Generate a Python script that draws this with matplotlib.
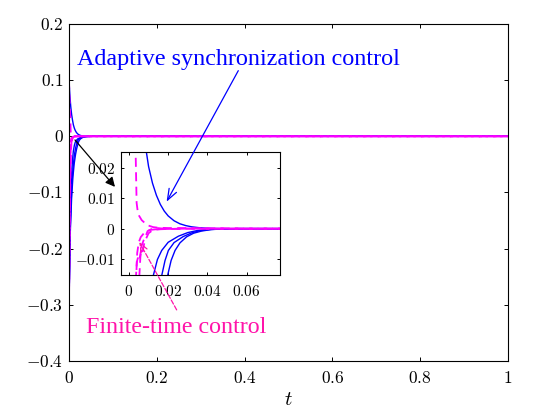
import matplotlib
matplotlib.use('Agg')
import matplotlib.pyplot as plt
from matplotlib.ticker import FuncFormatter

plt.rcParams['mathtext.fontset'] = 'cm'
plt.rcParams['font.family'] = ['Liberation Serif', 'DejaVu Serif']

# --- data ---
# adaptive synchronization control (blue, solid)
b1_t = [0, 0.002, 0.004, 0.006, 0.008, 0.010, 0.012, 0.014, 0.016, 0.018, 0.020,
        0.023, 0.026, 0.029, 0.032, 0.036, 0.040, 0.045, 0.05, 1.0]
b1_y = [0.1, 0.073, 0.053, 0.039, 0.029, 0.0205, 0.0150, 0.0110, 0.0080, 0.0058, 0.0042,
        0.0026, 0.0016, 0.0010, 0.0006, 0.0003, 0.00012, 0.00004, 0.0, 0.0]
b2_t = [0, 0.002, 0.004, 0.006, 0.008, 0.010, 0.0124, 0.0145, 0.0167, 0.020, 0.0252,
        0.030, 0.035, 0.040, 0.046, 0.054, 1.0]
b2_y = [-0.3, -0.18, -0.11, -0.068, -0.042, -0.026, -0.0155, -0.0102, -0.0072, -0.0045, -0.0025,
        -0.0013, -0.0006, -0.00025, -0.00008, 0, 0]
b3_t = [0, 0.003, 0.006, 0.009, 0.012, 0.0145, 0.0167, 0.0184, 0.0201, 0.023, 0.0277,
        0.032, 0.036, 0.041, 0.047, 0.055, 1.0]
b3_y = [-0.3, -0.16, -0.095, -0.058, -0.035, -0.023, -0.0155, -0.0105, -0.0072, -0.0046, -0.0026,
        -0.0014, -0.0007, -0.0003, -0.0001, 0, 0]
b4_t = [0, 0.003, 0.006, 0.009, 0.012, 0.015, 0.0175, 0.0197, 0.0215, 0.0235, 0.026,
        0.0294, 0.033, 0.037, 0.042, 0.048, 0.056, 1.0]
b4_y = [-0.3, -0.17, -0.11, -0.072, -0.048, -0.032, -0.022, -0.0155, -0.0105, -0.0072, -0.0047,
        -0.0027, -0.0015, -0.0008, -0.0003, -0.0001, 0, 0]

# finite-time control (magenta, dashed)
m1_t = [0, 0.001, 0.002, 0.003, 0.0034, 0.0039, 0.0045, 0.0052, 0.0065, 0.0082, 0.010,
        0.0124, 0.015, 0.02, 0.03, 0.04, 0.05, 0.06, 0.077, 1.0]
m1_y = [0.1, 0.072, 0.048, 0.034, 0.025, 0.0085, 0.0055, 0.0042, 0.0028, 0.0018, 0.0010,
        0.0005, 0.0003, 0.0002, 0.0002, 0.0001, 0.0001, 0.0, 0.0, 0.0]
m2_t = [0, 0.001, 0.002, 0.003, 0.0036, 0.0040, 0.0046, 0.0052, 0.0058, 0.0064, 0.0070,
        0.0078, 0.0088, 0.010, 0.0115, 0.013, 0.016, 0.02, 0.03, 0.04, 0.06, 1.0]
m2_y = [-0.3, -0.19, -0.10, -0.035, -0.0155, -0.011, -0.0095, -0.0105, -0.0085, -0.0062, -0.0075,
        -0.0048, -0.0032, -0.0015, -0.0008, -0.0004, -0.0002, -0.0001, 0, 0, 0, 0]
m3_t = [0, 0.0015, 0.003, 0.0045, 0.0053, 0.0058, 0.0065, 0.0075, 0.0085, 0.0095, 0.011,
        0.013, 0.016, 0.02, 0.03, 1.0]
m3_y = [-0.3, -0.17, -0.08, -0.03, -0.0155, -0.0095, -0.0055, -0.0038, -0.0025, -0.0008, -0.0003,
        0.0003, 0.0001, -0.0001, 0, 0]
m4_t = [0, 0.001, 0.002, 0.003, 0.0037, 0.0042, 0.005, 0.006, 0.0075, 0.009, 0.011,
        0.014, 0.02, 0.03, 1.0]
m4_y = [-0.3, -0.2, -0.11, -0.04, -0.0155, -0.008, -0.0045, -0.0028, -0.0016, -0.0009, -0.0004,
        -0.0002, -0.0001, 0, 0]

blue_curves = [(b1_t, b1_y), (b2_t, b2_y), (b3_t, b3_y), (b4_t, b4_y)]
mag_curves = [(m1_t, m1_y), (m2_t, m2_y), (m3_t, m3_y), (m4_t, m4_y)]

main_xticks = [0, 0.2, 0.4, 0.6, 0.8, 1]
main_yticks = [-0.4, -0.3, -0.2, -0.1, 0, 0.1, 0.2]
ins_xticks = [0, 0.02, 0.04, 0.06]
ins_yticks = [-0.01, 0, 0.01, 0.02]

blue = '#0000ff'
magenta = '#ff00ff'
pink = '#ff14aa'

fmt = FuncFormatter(lambda v, p: r'$%g$' % v)


def draw_curves(a):
    for t, y in blue_curves:
        a.plot(t, y, color=blue, lw=1.0)
    offs = [0, 4.0, 2.0, 6.0]
    for (t, y), o in zip(mag_curves, offs):
        a.plot(t, y, color=magenta, lw=1.3, linestyle=(o, (5, 3)))


def style_axes(a, size, tl, xpad):
    a.tick_params(direction='in', top=True, right=True, length=tl, width=0.7,
                  labelsize=size, pad=4)
    a.tick_params(axis='x', pad=xpad)
    for s in a.spines.values():
        s.set_linewidth(0.8)
    a.xaxis.set_major_formatter(fmt)
    a.yaxis.set_major_formatter(fmt)


fig = plt.figure(figsize=(5.59, 4.17), dpi=100)
ax = fig.add_axes([0.1234, 0.1343, 0.7853, 0.8082])
draw_curves(ax)
ax.set_xlim(0, 1)
ax.set_ylim(-0.4, 0.2)
ax.set_xticks(main_xticks)
ax.set_yticks(main_yticks)
style_axes(ax, 12.5, 3, 7)
ax.set_xlabel(r'$t$', fontsize=15, labelpad=3)

ax.text(0.0189, 0.127, 'Adaptive synchronization control', color=blue,
        fontsize=17.4, va='baseline', ha='left')
ax.text(0.0387, -0.350, 'Finite-time control', color=pink,
        fontsize=17.3, va='baseline', ha='left')

# black arrow pointing to the inset
ax.annotate('', xy=(0.1048, -0.090), xytext=(0.0137, -0.0065),
            arrowprops=dict(arrowstyle='-|>', color='black', lw=0.9,
                            mutation_scale=14, shrinkA=0, shrinkB=0))

ins = fig.add_axes([0.2159, 0.3398, 0.2855, 0.2957])
draw_curves(ins)
ins.set_xlim(-0.00423, 0.0772)
ins.set_ylim(-0.0154, 0.0253)
ins.set_xticks(ins_xticks)
ins.set_yticks(ins_yticks)
style_axes(ins, 11, 2.5, 6)

# arrows from labels into the inset
ins.annotate('', xy=(0.0192, 0.0089), xycoords='data',
             xytext=(0.3857, 0.1169), textcoords=ax.transData,
             annotation_clip=False,
             arrowprops=dict(arrowstyle='->,head_length=0.8,head_width=0.3', color=blue, lw=0.9,
                             shrinkA=0, shrinkB=0))
ins.annotate('', xy=(0.00526, -0.0044), xycoords='data',
             xytext=(0.2453, -0.309), textcoords=ax.transData,
             annotation_clip=False,
             arrowprops=dict(arrowstyle='->,head_length=0.6,head_width=0.25', color=pink, lw=0.9,
                             linestyle='--', shrinkA=0, shrinkB=0))

fig.savefig('out.png', dpi=100)
